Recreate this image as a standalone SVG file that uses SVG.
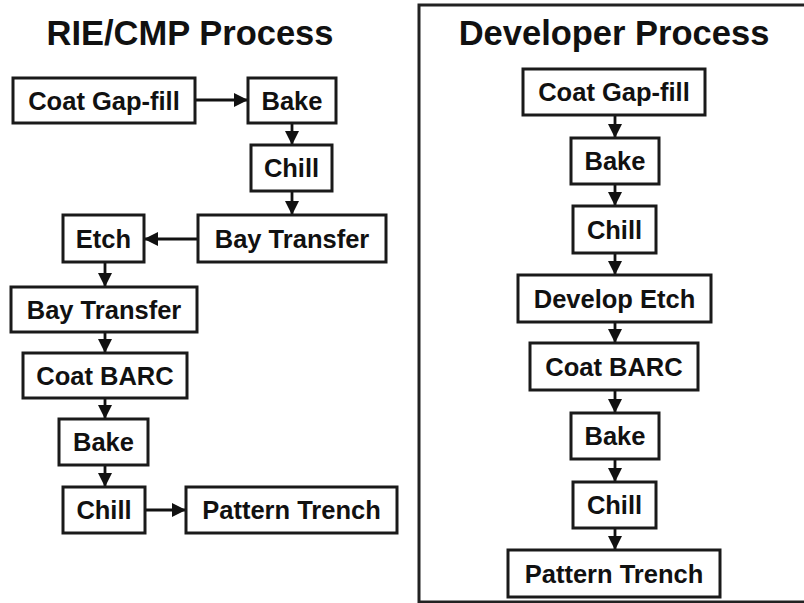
<svg xmlns="http://www.w3.org/2000/svg" width="804" height="603" viewBox="0 0 804 603">
<style>
.box{fill:#fff;stroke:#1a1a1a;stroke-width:3}
.lbl{font-family:"Liberation Sans",Arial,sans-serif;font-weight:bold;font-size:25.5px;fill:#111;text-anchor:middle}
.ttl{font-family:"Liberation Sans",Arial,sans-serif;font-weight:bold;font-size:34.5px;fill:#111;text-anchor:middle}
.arr{stroke:#111;stroke-width:2.8;fill:none;marker-end:url(#ah)}
</style>
<defs>
<marker id="ah" markerUnits="userSpaceOnUse" markerWidth="15" markerHeight="14" refX="14" refY="7" orient="auto">
<path d="M0,0 L14,7 L0,14 z" fill="#111"/>
</marker>
</defs>
<rect width="804" height="603" fill="#fff"/>
<rect x="419" y="5" width="400" height="597" fill="none" stroke="#222" stroke-width="3"/>
<text class="ttl" x="190" y="45">RIE/CMP Process</text>
<text class="ttl" x="614" y="45">Developer Process</text>
<g id="connectors">
<line class="arr" x1="195" y1="100" x2="248" y2="100"/>
<line class="arr" x1="292" y1="123" x2="292" y2="145"/>
<line class="arr" x1="292" y1="191" x2="292" y2="215"/>
<line class="arr" x1="198" y1="239" x2="144" y2="239"/>
<line class="arr" x1="105" y1="262" x2="105" y2="287"/>
<line class="arr" x1="105" y1="332" x2="105" y2="353"/>
<line class="arr" x1="105" y1="398" x2="105" y2="419"/>
<line class="arr" x1="105" y1="465" x2="105" y2="487"/>
<line class="arr" x1="145" y1="510" x2="186" y2="510"/>
<line class="arr" x1="615" y1="115" x2="615" y2="138"/>
<line class="arr" x1="615" y1="184" x2="615" y2="206"/>
<line class="arr" x1="615" y1="253" x2="615" y2="275"/>
<line class="arr" x1="615" y1="322" x2="615" y2="343"/>
<line class="arr" x1="615" y1="390" x2="615" y2="413"/>
<line class="arr" x1="615" y1="459" x2="615" y2="482"/>
<line class="arr" x1="615" y1="528" x2="615" y2="550"/>
</g>
<g id="l-coat-gap"><rect class="box" x="13" y="78" width="182" height="45"/><text class="lbl" x="104" y="109.5">Coat Gap-fill</text></g>
<g id="l-bake1"><rect class="box" x="248" y="78" width="88" height="45"/><text class="lbl" x="292" y="109.5">Bake</text></g>
<g id="l-chill1"><rect class="box" x="251" y="145" width="81" height="46"/><text class="lbl" x="291.5" y="177">Chill</text></g>
<g id="l-bay1"><rect class="box" x="198" y="215" width="188" height="47"/><text class="lbl" x="292" y="247.5">Bay Transfer</text></g>
<g id="l-etch"><rect class="box" x="63" y="215" width="81" height="47"/><text class="lbl" x="103.5" y="247.5">Etch</text></g>
<g id="l-bay2"><rect class="box" x="11" y="287" width="186" height="45"/><text class="lbl" x="104" y="318.5">Bay Transfer</text></g>
<g id="l-barc"><rect class="box" x="23" y="353" width="164" height="45"/><text class="lbl" x="105" y="384.5">Coat BARC</text></g>
<g id="l-bake2"><rect class="box" x="59" y="419" width="89" height="46"/><text class="lbl" x="103.5" y="451">Bake</text></g>
<g id="l-chill2"><rect class="box" x="63" y="487" width="82" height="46"/><text class="lbl" x="104" y="519">Chill</text></g>
<g id="l-pattern"><rect class="box" x="186" y="487" width="211" height="46"/><text class="lbl" x="291.5" y="519">Pattern Trench</text></g>
<g id="r-coat-gap"><rect class="box" x="523" y="69" width="182" height="46"/><text class="lbl" x="614" y="101">Coat Gap-fill</text></g>
<g id="r-bake1"><rect class="box" x="571" y="138" width="88" height="46"/><text class="lbl" x="615" y="170">Bake</text></g>
<g id="r-chill1"><rect class="box" x="573" y="206" width="83" height="47"/><text class="lbl" x="614.5" y="238.5">Chill</text></g>
<g id="r-develop"><rect class="box" x="518" y="275" width="193" height="47"/><text class="lbl" x="614.5" y="307.5">Develop Etch</text></g>
<g id="r-barc"><rect class="box" x="530" y="343" width="168" height="47"/><text class="lbl" x="614" y="375.5">Coat BARC</text></g>
<g id="r-bake2"><rect class="box" x="571" y="413" width="88" height="46"/><text class="lbl" x="615" y="445">Bake</text></g>
<g id="r-chill2"><rect class="box" x="573" y="482" width="83" height="46"/><text class="lbl" x="614.5" y="514">Chill</text></g>
<g id="r-pattern"><rect class="box" x="508" y="550" width="212" height="47"/><text class="lbl" x="614" y="582.5">Pattern Trench</text></g>
</svg>
